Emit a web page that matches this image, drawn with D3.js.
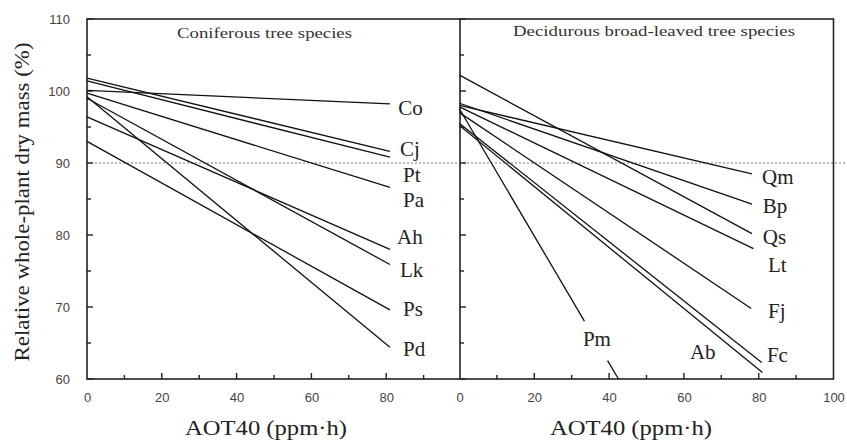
<!DOCTYPE html>
<html>
<head>
<meta charset="utf-8">
<script src="https://cdn.jsdelivr.net/npm/d3@7"></script>
<style>
  html, body { margin: 0; padding: 0; background: #fff; }
  svg { display: block; }
</style>
</head>
<body>
<svg id="chart" width="847" height="441"></svg>
<script>
// ---- data ----
const yTicks = [60, 70, 80, 90, 100, 110];
const yMinorTicks = [65, 75, 85, 95, 105];
const xTicksLeft = [0, 20, 40, 60, 80];
const xTicksRight = [0, 20, 40, 60, 80, 100];
const xMajorTicks = [20, 40, 60, 80];
const xMinorTicks = [10, 30, 50, 70, 90];
const refLine = 90;

const panelTitles = ["Coniferous tree species", "Decidurous broad-leaved tree species"];
const xTitle = "AOT40 (ppm\u00B7h)";
const yTitle = "Relative whole-plant dry mass (%)";

// Coniferous species: straight regression lines from AOT40 = 0 to end
const conNames  = ["Co", "Cj", "Pt", "Pa", "Ah", "Lk", "Ps", "Pd"];
const conStart  = [100.1, 101.8, 101.4, 99.7, 96.4, 99.0, 93.0, 99.2];
const conEndX   = [81, 81, 81, 81, 81, 81, 81, 81];
const conEnd    = [98.2, 91.6, 90.8, 86.6, 78.0, 75.9, 69.6, 64.4];
const conLabelX = [83.2, 83.7, 84.5, 84.5, 82.9, 83.7, 84.5, 84.5];
const conLabelY = [97.6, 92.0, 88.3, 84.9, 79.7, 75.1, 69.7, 64.1];

// Deciduous broad-leaved species
const decNames  = ["Qm", "Bp", "Qs", "Lt", "Fj", "Fc", "Ab", "Pm"];
const decStart  = [98.0, 98.3, 102.2, 97.8, 97.0, 95.5, 95.2, 97.5];
const decEndX   = [78.2, 78.2, 78.2, 78.6, 78.0, 80.8, 81.0, 42.5];
const decEnd    = [88.5, 84.3, 80.2, 78.1, 69.8, 62.3, 60.9, 60.0];
const decLabelX = [80.9, 81.1, 81.1, 82.5, 82.5, 82.2, 61.6, 33.0];
const decLabelY = [88.0, 84.0, 79.7, 75.8, 69.5, 63.3, 63.7, 65.5];
const pmGap = [33.4, 39.6]; // part of the Pm line hidden behind its label

// ---- layout ----
const svg = d3.select("#chart");
const plotTop = 19, plotBottom = 379;
const y = d3.scaleLinear().domain([60, 110]).range([plotBottom, plotTop]);
const xL = d3.scaleLinear().domain([0, 100]).range([87, 461]);
const xR = d3.scaleLinear().domain([0, 100]).range([459.5, 833.5]);
const divX = 460;
const majorLen = 6, minorLen = 4;

const serif = "'Liberation Serif', 'Times New Roman', serif";
const sans = "'Liberation Sans', Arial, sans-serif";

// reference dotted line at 90 %
svg.append("line")
  .attr("x1", xL(0)).attr("x2", 847)
  .attr("y1", y(refLine)).attr("y2", y(refLine))
  .attr("stroke", "#777").attr("stroke-width", 1)
  .attr("stroke-dasharray", "2,2");

function styleAxis(g) {
  g.select(".domain").remove();
  g.selectAll(".tick line").remove();
  g.selectAll(".tick text").attr("fill", "#444")
    .style("font-family", sans).style("font-size", "13px");
}

// tick labels via d3 axes
const gy = svg.append("g").attr("transform", `translate(${xL(0)},0)`)
  .call(d3.axisLeft(y).tickValues(yTicks).tickSize(0).tickPadding(17).tickFormat(d3.format("d")));
styleAxis(gy);
const gxL = svg.append("g").attr("transform", `translate(0,${plotBottom})`)
  .call(d3.axisBottom(xL).tickValues(xTicksLeft).tickSize(0).tickPadding(14).tickFormat(d3.format("d")));
styleAxis(gxL);
const gxR = svg.append("g").attr("transform", `translate(0,${plotBottom})`)
  .call(d3.axisBottom(xR).tickValues(xTicksRight).tickSize(0).tickPadding(14).tickFormat(d3.format("d")));
styleAxis(gxR);

// inward tick marks
const tg = svg.append("g").attr("stroke", "#222").attr("stroke-width", 1.4);
[xL(0), divX].forEach(ax => {
  yTicks.forEach(v => tg.append("line").attr("x1", ax).attr("x2", ax + majorLen).attr("y1", y(v)).attr("y2", y(v)));
  yMinorTicks.forEach(v => tg.append("line").attr("x1", ax).attr("x2", ax + minorLen).attr("y1", y(v)).attr("y2", y(v)));
});
[xL, xR].forEach(xs => {
  xMajorTicks.forEach(v => tg.append("line").attr("x1", xs(v)).attr("x2", xs(v)).attr("y1", plotBottom).attr("y2", plotBottom - majorLen));
  xMinorTicks.forEach(v => tg.append("line").attr("x1", xs(v)).attr("x2", xs(v)).attr("y1", plotBottom).attr("y2", plotBottom - minorLen));
});

// frames
const frame = svg.append("g").attr("fill", "none").attr("stroke", "#222").attr("stroke-width", 1.6);
frame.append("rect").attr("x", xL(0)).attr("y", plotTop).attr("width", xR(100) - xL(0)).attr("height", plotBottom - plotTop);
frame.append("line").attr("x1", divX).attr("x2", divX).attr("y1", plotTop).attr("y2", plotBottom);

// series lines
const line = d3.line();
function drawSeries(xs, names, start, endX, end) {
  const g = svg.append("g").attr("fill", "none").attr("stroke", "#111").attr("stroke-width", 1.3);
  names.forEach((n, i) => {
    const slope = (end[i] - start[i]) / endX[i];
    const val = t => start[i] + slope * t;
    let segs = [[0, endX[i]]];
    if (n === "Pm") segs = [[0, pmGap[0]], [pmGap[1], endX[i]]];
    segs.forEach(s => {
      g.append("path").attr("d", line(s.map(t => [xs(t), y(val(t))])));
    });
  });
}
drawSeries(xL, conNames, conStart, conEndX, conEnd);
drawSeries(xR, decNames, decStart, decEndX, decEnd);

// species labels
const labelSize = 21;
function drawLabels(xs, names, lx, ly) {
  svg.append("g").selectAll("text").data(names).join("text")
    .attr("x", (d, i) => xs(lx[i]))
    .attr("y", (d, i) => y(ly[i]) + 0.33 * labelSize)
    .attr("fill", "#222")
    .style("font-family", serif).style("font-size", labelSize + "px")
    .text(d => d);
}
drawLabels(xL, conNames, conLabelX, conLabelY);
drawLabels(xR, decNames, decLabelX, decLabelY);

// panel titles
svg.append("text").attr("x", 264.5).attr("y", 38).attr("text-anchor", "middle")
  .attr("textLength", 175).attr("lengthAdjust", "spacingAndGlyphs")
  .attr("fill", "#333").style("font-family", serif).style("font-size", "15px")
  .text(panelTitles[0]);
svg.append("text").attr("x", 654).attr("y", 36).attr("text-anchor", "middle")
  .attr("textLength", 282).attr("lengthAdjust", "spacingAndGlyphs")
  .attr("fill", "#333").style("font-family", serif).style("font-size", "15px")
  .text(panelTitles[1]);

// axis titles
[[266, 162], [631, 162]].forEach(([cx, w]) => {
  svg.append("text").attr("x", cx).attr("y", 435).attr("text-anchor", "middle")
    .attr("textLength", w).attr("lengthAdjust", "spacingAndGlyphs")
    .attr("fill", "#222").style("font-family", serif).style("font-size", "21px")
    .text(xTitle);
});
svg.append("text").attr("transform", "translate(29,202) rotate(-90)")
  .attr("text-anchor", "middle")
  .attr("textLength", 319).attr("lengthAdjust", "spacingAndGlyphs")
  .attr("fill", "#222").style("font-family", serif).style("font-size", "20px")
  .text(yTitle);
</script>
</body>
</html>
